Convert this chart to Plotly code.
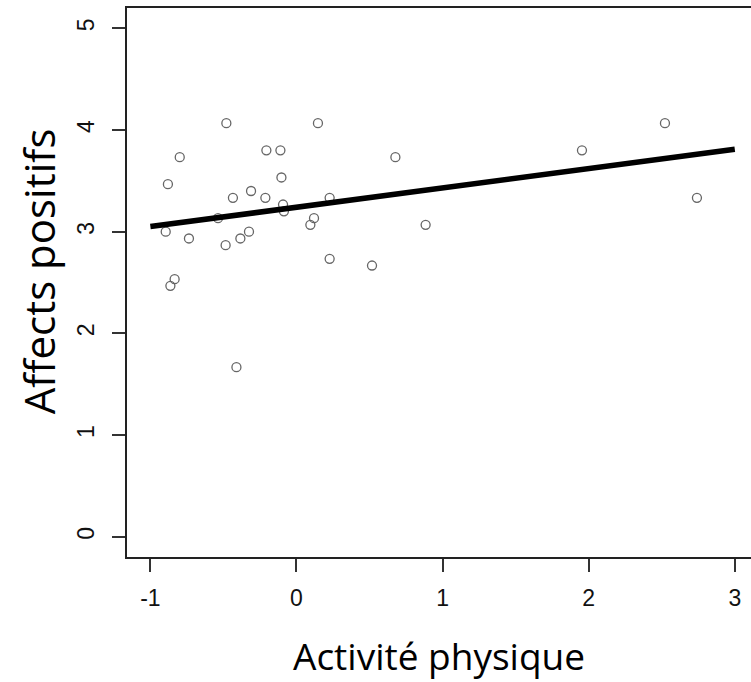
import plotly.graph_objects as go

# Data
activite = [-0.480, 0.147, -0.799, -0.880, -0.206, -0.110, -0.103, -0.435, -0.311,
            -0.213, -0.092, -0.086, 0.227, 0.120, 0.095, -0.895, -0.736, -0.485,
            -0.384, -0.325, 0.227, 0.517, -0.834, -0.863, -0.411, 0.677, 0.884,
            1.954, 2.522, 2.741, -0.537]
affects = [4.067, 4.067, 3.733, 3.467, 3.800, 3.800, 3.533, 3.333, 3.400,
           3.333, 3.267, 3.200, 3.333, 3.133, 3.067, 3.000, 2.933, 2.867,
           2.933, 3.000, 2.733, 2.667, 2.533, 2.467, 1.667, 3.733, 3.067,
           3.800, 4.067, 3.333, 3.133]

fit_x = [-1, 3]
fit_y = [3.05, 3.81]

x_ticks = [-1, 0, 1, 2, 3]
y_ticks = [0, 1, 2, 3, 4, 5]

fig = go.Figure()
fig.add_trace(go.Scatter(
    x=activite, y=affects, mode="markers",
    marker=dict(symbol="circle-open", size=9, color="#666666", line=dict(width=1.3, color="#666666")),
    showlegend=False, hoverinfo="skip"))
fig.add_trace(go.Scatter(
    x=fit_x, y=fit_y, mode="lines",
    line=dict(color="black", width=5.5),
    showlegend=False, hoverinfo="skip"))

tick_font = dict(family="Liberation Sans, Arial, sans-serif", size=23, color="#111")
axis_common = dict(showgrid=False, zeroline=False, showline=True, linecolor="#222",
                   linewidth=1.5, ticks="outside", ticklen=13, tickwidth=1.5,
                   tickcolor="#333", tickfont=tick_font)

fig.update_layout(
    width=751, height=682,
    margin=dict(l=127, r=0, t=8, b=125),
    paper_bgcolor="white", plot_bgcolor="white",
    xaxis=dict(range=[-1.16, 3.111], tickvals=x_ticks, ticktext=[str(v) for v in x_ticks],
               mirror=True, ticklabelstandoff=7, **axis_common),
    yaxis=dict(range=[-0.2, 5.2], tickvals=y_ticks, ticktext=[str(v) for v in y_ticks],
               mirror=False, tickangle=-90, ticklabelstandoff=9, **axis_common),
    annotations=[
        dict(text="Activité physique", xref="paper", yref="paper", x=(439 - 127) / 624,
             y=-(655 - 556.7) / 549, xanchor="center", yanchor="middle", showarrow=False,
             font=dict(family="Open Sans, sans-serif", size=37, color="black")),
        dict(text="Affects positifs", xref="paper", yref="paper", x=-(127 - 38) / 624,
             y=(556.7 - 271) / 549, xanchor="center", yanchor="middle", showarrow=False,
             textangle=-90,
             font=dict(family="Open Sans, sans-serif", size=42, color="black")),
    ],
)

fig.write_html("out.html")
